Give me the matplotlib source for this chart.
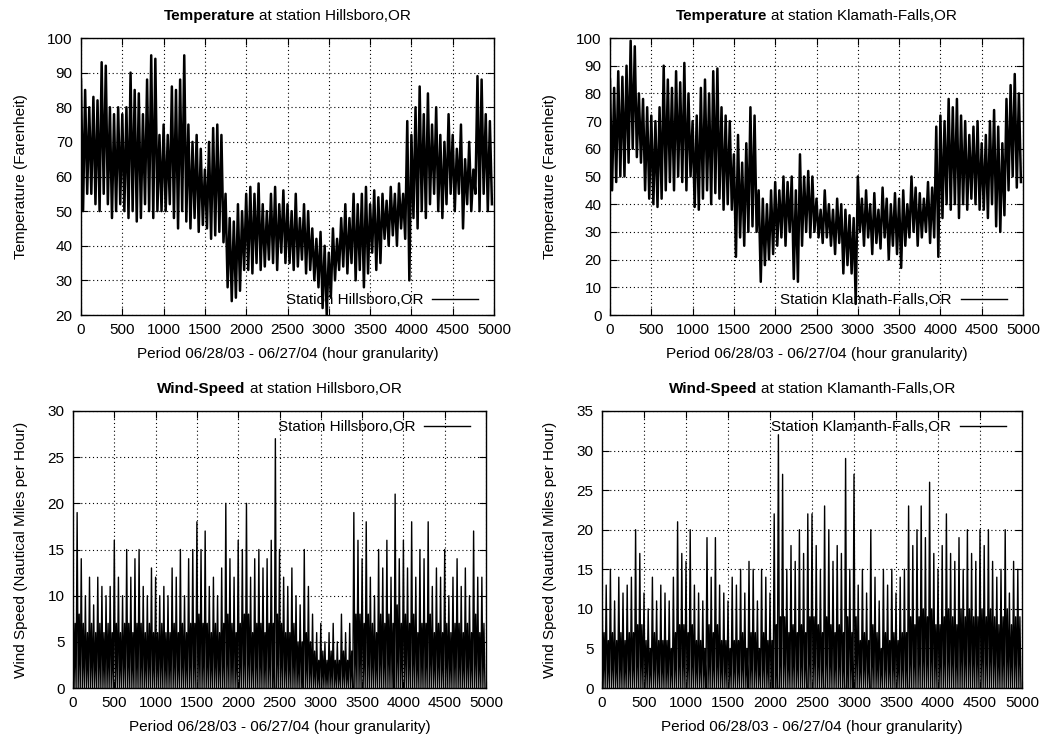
import numpy as np
import matplotlib
matplotlib.use("Agg")
import matplotlib.pyplot as plt
from matplotlib.offsetbox import TextArea, HPacker, AnchoredOffsetbox

plt.rcParams['font.family'] = ['Liberation Sans', 'DejaVu Sans']
plt.rcParams['font.size'] = 11

# hourly readings summarised per 50-hour block
hours = np.arange(0, 5000, 50)

hills_temp_hi = [88, 85, 80, 83, 82, 93, 92, 80, 78, 80,
                 78, 80, 90, 85, 84, 78, 88, 95, 94, 72,
                 75, 72, 86, 85, 88, 95, 75, 70, 72, 68,
                 62, 70, 74, 75, 72, 55, 48, 47, 52, 50,
                 55, 57, 55, 58, 52, 50, 55, 57, 52, 56,
                 52, 50, 55, 48, 52, 50, 45, 42, 44, 40,
                 38, 45, 42, 48, 52, 48, 55, 52, 55, 57,
                 52, 56, 54, 55, 53, 57, 55, 58, 55, 76,
                 72, 80, 86, 78, 84, 75, 80, 72, 70, 78,
                 72, 68, 75, 65, 70, 62, 89, 88, 78, 76]
hills_temp_lo = [50, 55, 55, 52, 50, 55, 52, 48, 50, 52,
                 50, 48, 50, 47, 48, 52, 50, 48, 50, 50,
                 50, 52, 48, 45, 50, 47, 45, 48, 44, 46,
                 45, 42, 43, 44, 41, 28, 24, 25, 27, 33,
                 33, 32, 35, 33, 34, 36, 35, 33, 38, 35,
                 35, 33, 34, 36, 32, 33, 30, 28, 22, 20,
                 25, 30, 33, 34, 32, 35, 30, 33, 28, 32,
                 38, 33, 35, 42, 40, 43, 40, 45, 42, 30,
                 48, 45, 50, 48, 52, 55, 50, 48, 52, 55,
                 50, 55, 45, 52, 50, 55, 50, 55, 50, 52]

klam_temp_hi = [85, 82, 88, 86, 90, 99, 97, 80, 78, 75,
                72, 70, 75, 90, 85, 82, 88, 84, 91, 80,
                70, 72, 82, 85, 80, 88, 89, 75, 72, 70,
                58, 65, 55, 62, 75, 72, 45, 42, 40, 45,
                48, 45, 50, 48, 50, 45, 58, 50, 52, 50,
                42, 38, 45, 40, 38, 42, 40, 38, 36, 35,
                50, 42, 45, 40, 44, 38, 46, 42, 40, 44,
                42, 45, 40, 50, 46, 44, 42, 48, 46, 68,
                72, 70, 78, 75, 78, 72, 70, 65, 68, 70,
                62, 65, 70, 74, 68, 62, 78, 83, 87, 80]
klam_temp_lo = [45, 48, 50, 50, 55, 60, 57, 55, 45, 42,
                40, 39, 42, 45, 48, 45, 50, 48, 45, 50,
                39, 38, 42, 45, 40, 44, 42, 38, 40, 38,
                21, 28, 25, 30, 32, 30, 12, 18, 20, 22,
                25, 28, 25, 30, 13, 12, 25, 30, 28, 30,
                28, 26, 28, 25, 22, 26, 15, 18, 15, 4,
                30, 25, 28, 22, 26, 24, 28, 20, 25, 22,
                17, 25, 28, 30, 25, 28, 30, 26, 28, 21,
                35, 40, 38, 40, 35, 40, 38, 42, 40, 38,
                38, 35, 40, 32, 30, 36, 45, 50, 46, 48]

# wind: block peak, block minimum and the usual (busy) level in between
hills_wind_hi = [12, 19, 14, 10, 12, 9, 12, 11, 10, 11,
                 16, 12, 10, 15, 12, 14, 15, 11, 10, 13,
                 12, 10, 11, 10, 13, 12, 15, 10, 14, 15,
                 18, 15, 17, 11, 12, 10, 13, 20, 14, 12,
                 16, 15, 20, 12, 14, 15, 13, 14, 16, 27,
                 15, 12, 11, 13, 10, 9, 15, 11, 8, 6,
                 7, 5, 6, 7, 5, 8, 6, 7, 19, 16,
                 14, 18, 12, 10, 15, 13, 16, 12, 21, 14,
                 16, 13, 18, 12, 15, 14, 18, 11, 13, 12,
                 15, 10, 12, 14, 11, 13, 10, 17, 12, 12]
hills_wind_typ = [7, 8, 7, 6, 7, 6, 7, 6, 7, 6,
                  7, 6, 7, 7, 6, 7, 7, 6, 7, 6,
                  6, 7, 6, 6, 7, 6, 7, 6, 7, 7,
                  8, 7, 7, 6, 7, 6, 7, 8, 7, 6,
                  7, 8, 8, 6, 7, 7, 6, 7, 7, 8,
                  7, 6, 6, 7, 5, 5, 6, 5, 4, 3,
                  4, 3, 4, 3, 3, 4, 3, 4, 8, 8,
                  7, 8, 7, 6, 8, 7, 8, 7, 9, 7,
                  8, 7, 8, 6, 7, 7, 8, 6, 7, 6,
                  7, 6, 7, 7, 6, 7, 6, 8, 6, 7]
hills_wind_lo = [0] * 100

klam_wind_hi = [15, 13, 15, 11, 14, 12, 13, 14, 20, 17,
                12, 10, 14, 11, 13, 12, 11, 14, 21, 17,
                16, 20, 13, 12, 11, 19, 14, 19, 13, 12,
                11, 14, 13, 15, 12, 16, 15, 11, 15, 14,
                12, 22, 32, 27, 15, 18, 16, 20, 17, 22,
                22, 18, 15, 23, 20, 16, 18, 17, 29, 15,
                27, 13, 15, 12, 20, 14, 11, 15, 13, 15,
                12, 14, 15, 23, 18, 20, 23, 19, 26, 17,
                15, 18, 22, 17, 16, 19, 15, 20, 17, 16,
                20, 18, 20, 16, 14, 15, 20, 12, 16, 15]
klam_wind_typ = [7, 6, 7, 6, 7, 6, 7, 7, 8, 8,
                 6, 5, 7, 6, 6, 6, 5, 7, 8, 8,
                 7, 8, 6, 6, 5, 8, 7, 8, 6, 6,
                 5, 6, 6, 7, 5, 7, 7, 5, 7, 6,
                 6, 8, 9, 9, 7, 8, 7, 8, 7, 9,
                 9, 8, 7, 9, 8, 7, 8, 7, 9, 7,
                 9, 6, 7, 6, 8, 7, 5, 7, 6, 7,
                 6, 7, 7, 9, 8, 9, 10, 9, 10, 8,
                 8, 9, 10, 9, 8, 10, 9, 10, 9, 9,
                 10, 9, 10, 9, 8, 9, 10, 8, 9, 9]
klam_wind_lo = [0] * 100

xlab = 'Period 06/28/03 - 06/27/04 (hour granularity)'


def trace(*levels):
    # visit each block's levels in turn so the line swings like the hourly data
    n = len(levels)
    x = (hours[:, None] + np.arange(n)[None, :] * 50.0 / n).ravel()
    y = np.column_stack(levels).ravel()
    return x, y


def panel(ax, x, y, lw, bold, rest, legend, ylabel, ylim, ystep, leg_top):
    ax.plot(x, y, color='black', lw=lw, solid_joinstyle='round', label=legend)
    ax.set_xlim(0, 5000)
    ax.set_ylim(*ylim)
    ax.set_xticks(np.arange(0, 5001, 500))
    ax.set_yticks(np.arange(ylim[0], ylim[1] + 1, ystep))
    ax.tick_params(direction='in', top=True, right=True, length=5,
                   width=0.8, pad=6, labelsize=11)
    ax.grid(True, color='black', lw=0.8, ls=(0, (1, 2.5)))
    for s in ax.spines.values():
        s.set_linewidth(1.0)
    ax.set_xlabel(xlab, fontsize=11, labelpad=7)
    ax.set_ylabel(ylabel, fontsize=11, labelpad=14)

    t = HPacker(children=[TextArea(bold, textprops=dict(fontweight='bold', fontsize=11)),
                          TextArea(rest, textprops=dict(fontsize=11))],
                sep=3, pad=0, align='baseline')
    box = AnchoredOffsetbox(loc='lower center', child=t, pad=0, borderpad=0,
                            frameon=False, bbox_to_anchor=(0.5, 1.055),
                            bbox_transform=ax.transAxes)
    ax.add_artist(box)

    w, h = ax.get_position().width * 1045, ax.get_position().height * 738
    if leg_top:
        anchor = (1 - 16 / w, 1 - 16 / h)
    else:
        anchor = (1 - 16 / w, 15 / h)
    leg = ax.legend(loc='center right', bbox_to_anchor=anchor, frameon=False,
                    markerfirst=False, handlelength=3.0, handletextpad=0.6,
                    borderpad=0, borderaxespad=0, fontsize=11)
    for ln in leg.get_lines():
        ln.set_linewidth(1.0)


fig = plt.figure(figsize=(10.45, 7.38), dpi=100)
ax1 = fig.add_axes([81 / 1045, 423 / 738, 413 / 1045, 277 / 738])
ax2 = fig.add_axes([610 / 1045, 423 / 738, 413 / 1045, 277 / 738])
ax3 = fig.add_axes([73 / 1045, 50 / 738, 413 / 1045, 277 / 738])
ax4 = fig.add_axes([602 / 1045, 50 / 738, 420 / 1045, 277 / 738])

x, y = trace(hills_temp_hi, hills_temp_lo)
panel(ax1, x, y, 1.8, 'Temperature', 'at station Hillsboro,OR',
      'Station Hillsboro,OR', 'Temperature (Farenheit)', (20, 100), 10, False)
x, y = trace(klam_temp_hi, klam_temp_lo)
panel(ax2, x, y, 1.8, 'Temperature', 'at station Klamath-Falls,OR',
      'Station Klamath-Falls,OR', 'Temperature (Farenheit)', (0, 100), 10, False)
x, y = trace(hills_wind_hi, hills_wind_lo, hills_wind_typ, hills_wind_lo)
panel(ax3, x, y, 1.0, 'Wind-Speed', 'at station Hillsboro,OR',
      'Station Hillsboro,OR', 'Wind Speed (Nautical Miles per Hour)', (0, 30), 5, True)
x, y = trace(klam_wind_hi, klam_wind_lo, klam_wind_typ, klam_wind_lo)
panel(ax4, x, y, 1.0, 'Wind-Speed', 'at station Klamanth-Falls,OR',
      'Station Klamanth-Falls,OR', 'Wind Speed (Nautical Miles per Hour)', (0, 35), 5, True)

fig.savefig('out.png', dpi=100)
